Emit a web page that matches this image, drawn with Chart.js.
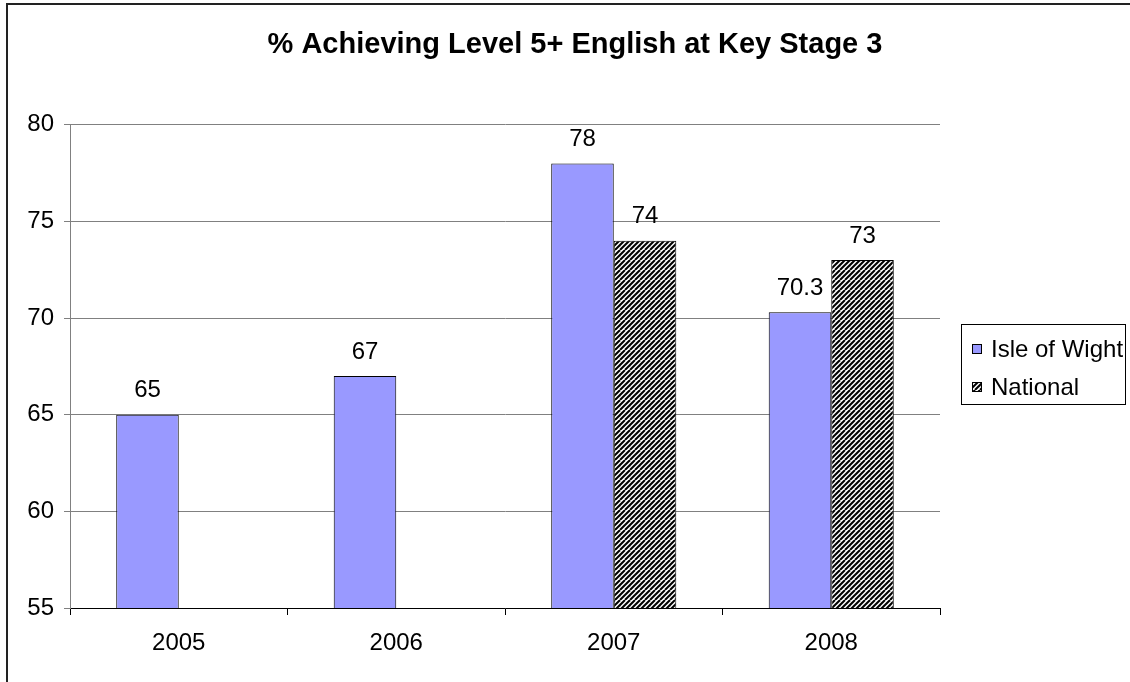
<!DOCTYPE html>
<html>
<head>
<meta charset="utf-8">
<script src="https://cdn.jsdelivr.net/npm/chart.js@4/dist/chart.umd.min.js"></script>
<style>
  html, body { margin: 0; padding: 0; background: #fff; overflow: hidden; }
  #wrap { width: 1130px; height: 682px; }
</style>
</head>
<body>
<div id="wrap"><canvas id="chart"></canvas></div>
<script>
const years = ['2005', '2006', '2007', '2008'];
const isleOfWight = [65, 67, 78, 70.3];
const national = [null, null, 74, 73];
const yTicks = [55, 60, 65, 70, 75, 80];

const FONT = "'Liberation Sans', Arial, sans-serif";

// black/white diagonal hatch used for the National series
function makeHatch() {
    const s = 10;
    const c = document.createElement('canvas');
    c.width = s; c.height = s;
    const g = c.getContext('2d');
    g.fillStyle = '#fff';
    g.fillRect(0, 0, s, s);
    g.strokeStyle = '#000';
    g.lineWidth = 2;
    for (let k = -2 * s; k <= 2 * s; k += 5) {
        g.beginPath();
        g.moveTo(k, s);
        g.lineTo(k + s, 0);
        g.stroke();
    }
    return g.createPattern(c, 'repeat');
}
const hatch = makeHatch();

const framePlugin = {
    id: 'frame',
    afterLayout(chart) {
        // centre the title over the whole frame, not only the plot + legend gap
        chart.titleBlock.left = 20;
        chart.titleBlock.right = chart.width;
    },
    beforeDraw(chart) {
        const ctx = chart.ctx;
        ctx.save();
        ctx.fillStyle = '#fff';
        ctx.fillRect(0, 0, chart.width, chart.height);
        ctx.fillStyle = '#222';
        ctx.fillRect(6, 3, 2, chart.height - 3);
        ctx.fillRect(6, 3, chart.width - 6, 2);
        ctx.restore();
    }
};

const valueLabels = {
    id: 'valueLabels',
    afterDatasetsDraw(chart) {
        const ctx = chart.ctx;
        ctx.save();
        ctx.font = '24px ' + FONT;
        ctx.fillStyle = '#000';
        ctx.textAlign = 'center';
        ctx.textBaseline = 'middle';
        chart.data.datasets.forEach((ds, i) => {
            chart.getDatasetMeta(i).data.forEach((bar, j) => {
                if (ds.data[j] == null) return;
                ctx.fillText(String(ds.data[j]), bar.x, bar.y - 24);
            });
        });
        ctx.restore();
    }
};

const boxedLegend = {
    id: 'boxedLegend',
    afterDraw(chart) {
        const ctx = chart.ctx;
        const x = 961, y = 324, w = 164, h = 80;
        ctx.save();
        ctx.strokeStyle = '#000';
        ctx.lineWidth = 1;
        ctx.strokeRect(x + 0.5, y + 0.5, w, h);
        ctx.font = '24px ' + FONT;
        ctx.textBaseline = 'middle';
        chart.data.datasets.forEach((ds, i) => {
            const cy = y + 25 + i * 38;
            ctx.fillStyle = ds.backgroundColor;
            ctx.fillRect(972, cy - 5, 10, 10);
            ctx.strokeStyle = '#000';
            ctx.strokeRect(972.5, cy - 4.5, 9, 9);
            ctx.fillStyle = '#000';
            ctx.fillText(ds.label, 991, cy + 1);
        });
        ctx.restore();
    }
};

new Chart(document.getElementById('chart'), {
    type: 'bar',
    data: {
        labels: years,
        datasets: [
            {
                label: 'Isle of Wight',
                data: isleOfWight,
                backgroundColor: '#9999FF',
                borderColor: '#000',
                borderWidth: 1,
                categoryPercentage: 0.575,
                barPercentage: 1.0
            },
            {
                label: 'National',
                data: national,
                backgroundColor: hatch,
                borderColor: '#000',
                borderWidth: 1,
                categoryPercentage: 0.575,
                barPercentage: 1.0
            }
        ]
    },
    options: {
        responsive: true,
        maintainAspectRatio: false,
        animation: false,
        layout: { padding: { left: 20, right: 190, top: 0, bottom: 0 } },
        plugins: {
            legend: { display: false },
            tooltip: { enabled: false },
            title: {
                display: true,
                text: '% Achieving Level 5+ English at Key Stage 3',
                color: '#000',
                font: { family: FONT, size: 29, weight: 'bold' },
                padding: { top: 28, bottom: 62 }
            }
        },
        scales: {
            x: {
                grid: {
                    offset: true,
                    drawOnChartArea: false,
                    drawTicks: true,
                    tickLength: 7,
                    color: '#000'
                },
                border: { color: '#000', width: 1 },
                ticks: {
                    color: '#000',
                    font: { family: FONT, size: 24 },
                    padding: 14
                },
                afterFit(s) { s.height = 74; }
            },
            y: {
                min: 55,
                max: 80,
                afterBuildTicks(s) { s.ticks = yTicks.map(v => ({ value: v })); },
                grid: {
                    color: '#808080',
                    tickLength: 6,
                    drawTicks: true
                },
                border: { color: '#808080', width: 1 },
                ticks: {
                    color: '#000',
                    font: { family: FONT, size: 24 },
                    padding: 10
                },
                afterFit(s) { s.width = 50; }
            }
        }
    },
    plugins: [framePlugin, valueLabels, boxedLegend]
});
</script>
</body>
</html>
